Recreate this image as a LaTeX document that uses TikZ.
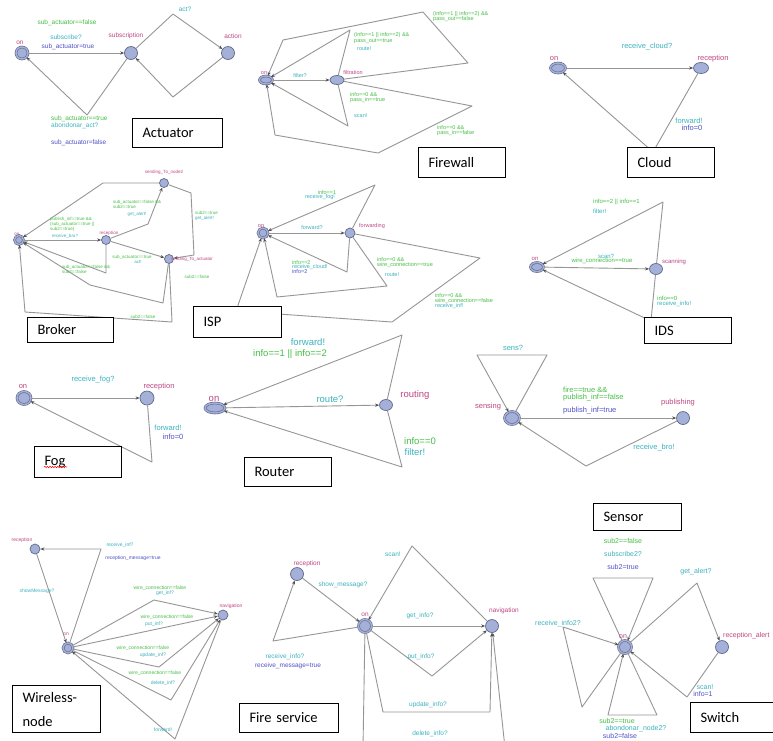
\documentclass[tikz,border=0pt]{standalone}
\usepackage{fontspec}
\usetikzlibrary{shapes.geometric,arrows.meta,decorations.pathmorphing}
\newfontfamily\labf{Liberation Sans}
\newfontfamily\boxf{Carlito}
\definecolor{stf}{RGB}{164,176,216}
\definecolor{stb}{RGB}{96,104,140}
\definecolor{edg}{RGB}{150,150,150}
\definecolor{arr}{RGB}{80,80,80}
\definecolor{cg}{RGB}{70,190,70}
\definecolor{cc}{RGB}{60,178,190}
\definecolor{cb}{RGB}{80,80,200}
\definecolor{cm}{RGB}{190,70,130}
\tikzset{
  st/.style={ellipse, draw=stb, fill=stf, line width=0.7pt, inner sep=0pt},
  ini/.style={double=stf, double distance=1.4pt, line width=0.6pt},
  trans/.style={draw=edg, line width=0.9pt, line join=round, -{Stealth[length=4pt,width=3.2pt,color=arr]}},
  tg/.style={text=cg, inner sep=0pt},
  tc/.style={text=cc, inner sep=0pt},
  tb/.style={text=cb, inner sep=0pt},
  tm/.style={text=cm, inner sep=0pt},
  lbox/.style={draw=black, fill=white, line width=1pt, anchor=north west, inner xsep=10pt, inner ysep=0pt, align=left, font=\boxf\fontsize{14.5}{20}\selectfont},
  fs/.style={every node/.append style={font=\labf\fontsize{#1}{#1}\selectfont}}
}
\begin{document}
\begin{tikzpicture}[x=1pt,y=-1pt]
\useasboundingbox (0,0) rectangle (773,740);
\fill[white] (0,0) rectangle (773,740);
\clip (0,0) rectangle (773,740);

% ---------------- Actuator
\begin{scope}[fs=6.5]
\node[st, ini, minimum width=12pt, minimum height=12pt] (aon) at (22,53) {};
\node[st, minimum width=13pt, minimum height=13pt] (asub) at (131,53) {};
\node[st, minimum width=13pt, minimum height=13pt] (aact) at (228,53) {};
\draw[trans] (aon) -- (asub);
\draw[trans] (asub) -- (173,14) -- (aact);
\draw[trans] (aact) -- (173,97) -- (asub);
\draw[trans] (asub) -- (87,115) -- (aon);
\node[tm] (a1) at (20,43) {on};
\node[tm] (a2) at (126,36) {subscription};
\node[tm] (a3) at (233,36) {action};
\node[tc] (a4) at (185,9) {act?};
\node[tg] (a5) at (67,23) {sub\_actuator==false};
\node[tc] (a6) at (66,37) {subscribe?};
\node[tb] (a7) at (68,47) {sub\_actuator=true};
\node[tg, anchor=west] (a8) at (51,119) {sub\_actuator==true};
\node[tc, anchor=west] (a9) at (51,126) {abondonar\_act?};
\node[tb, anchor=west] (a10) at (51,143) {sub\_actuator=false};
\end{scope}

% ---------------- Firewall
\begin{scope}[fs=5.5]
\node[st, ini, minimum width=13pt, minimum height=8pt] (fon) at (266,80) {};
\node[st, minimum width=14pt, minimum height=9pt] (ffil) at (337,80) {};
\draw[trans] (fon) -- (ffil);
\draw[trans] (ffil) -- (350,30) -- (fon);
\draw[trans] (ffil) -- (468,63) -- (423,12) -- (283,40) -- (fon);
\draw[trans] (ffil) -- (348,126) -- (fon);
\draw[trans] (ffil) -- (472,106) -- (378,153) -- (275,135) -- (fon);
\node[tm] (f1) at (264,73) {on};
\node[tm] (f2) at (353,73) {filtration};
\node[tc] (f3) at (300,76) {filter?};
\node[tg, anchor=west] (f4) at (354,35) {(info==1 || info==2) \&\&};
\node[tg, anchor=west] (f5) at (354,41) {pass\_out==true};
\node[tc, anchor=west] (f6) at (357,49) {route!};
\node[tg, anchor=west] (f7) at (433,14) {(info==1 || info==2) \&\&};
\node[tg, anchor=west] (f8) at (433,19.5) {pass\_out==false};
\node[tg, anchor=west] (f9) at (350,95) {info==0 \&\&};
\node[tg, anchor=west] (f10) at (350,100.5) {pass\_in==true};
\node[tc, anchor=west] (f11) at (354,116) {scan!};
\node[tg, anchor=west] (f12) at (437,128) {info==0 \&\&};
\node[tg, anchor=west] (f13) at (437,133.5) {pass\_in==false};
\end{scope}

% ---------------- Cloud
\begin{scope}[fs=7.5]
\node[st, ini, minimum width=15pt, minimum height=10pt] (con) at (558,68) {};
\node[st, minimum width=15pt, minimum height=11pt] (crec) at (701,68) {};
\draw[trans] (con) -- (crec);
\draw[trans] (crec) -- (653,152) -- (con);
\node[tm] (c1) at (554,59) {on};
\node[tm] (c2) at (713,59) {reception};
\node[tc] (c3) at (647,47) {receive\_cloud?};
\node[tc] (c4) at (689,121) {forward!};
\node[tb] (c5) at (692,128) {info=0};
\end{scope}

% ---------------- Broker
\begin{scope}[fs=4.5]
\node[st, ini, minimum width=9pt, minimum height=9pt] (bon) at (19,240) {};
\node[st, minimum width=9pt, minimum height=9pt] (brec) at (106,240) {};
\node[st, minimum width=9pt, minimum height=9pt] (bn2) at (164,183) {};
\node[st, minimum width=9pt, minimum height=9pt] (bact) at (169,259) {};
\draw[trans] (bon) -- (brec);
\draw[trans] (brec) -- (148,224) -- (bn2);
\draw[trans] (bn2) -- (103,183) -- (bon);
\draw[trans] (bn2) -- (191,193) -- (194,255) -- (bact);
\draw[trans] (brec) -- (bact);
\draw[trans] (brec) -- (106,273) -- (bon);
\draw[trans] (bact) -- (163,303) -- (90,285) -- (bon);
\draw[trans] (bact) -- (172,322) -- (25,312) -- (bon);
\node[tm] (b1) at (17,234) {on};
\node[tm] (b2) at (109,233) {reception};
\node[tm] (b3) at (164,172) {sending\_To\_node2};
\node[tm] (b4) at (192,259) {sending\_To\_actuator};
\node[tg, anchor=west] (b5) at (50,219) {publish\_inf==true \&\&};
\node[tg, anchor=west] (b6) at (50,224) {(sub\_actuator==true ||};
\node[tg, anchor=west] (b7) at (50,229) {sub2==true)};
\node[tc] (b8) at (65,236) {receive\_bro?};
\node[tg, anchor=west] (b9) at (113,202) {sub\_actuator==false \&\&};
\node[tg, anchor=west] (b10) at (113,206.5) {sub2==true};
\node[tc] (b11) at (137,214) {get\_alert!};
\node[tg, anchor=west] (b12) at (195,213) {sub2==true};
\node[tc, anchor=west] (b13) at (195,218.5) {get\_alert!};
\node[tg] (b14) at (132,257) {sub\_actuator==true};
\node[tc] (b15) at (138,262) {act!};
\node[tg, anchor=west] (b16) at (62,267) {sub\_actuator==false \&\&};
\node[tg, anchor=west] (b17) at (62,272) {sub2==false};
\node[tg] (b18) at (197,277) {sub2==false};
\node[tg] (b19) at (143,317) {sub2==false};
\end{scope}

% ---------------- ISP
\begin{scope}[fs=5.5]
\node[st, ini, minimum width=10pt, minimum height=10pt] (ion) at (263,233) {};
\node[st, minimum width=10pt, minimum height=10pt] (ifw) at (350,233) {};
\draw[trans] (ion) -- (ifw);
\draw[trans] (ifw) -- (375,185) -- (ion);
\draw[trans] (ifw) -- (347,272) -- (ion);
\draw[trans] (ifw) -- (387,286) -- (277,297) -- (ion);
\draw[trans] (ifw) -- (480,258) -- (392,322) -- (236,311) -- (ion);
\node[tm] (i1) at (261,226) {on};
\node[tm] (i2) at (372,226) {forwarding};
\node[tc] (i3) at (312,228) {forward?};
\node[tg] (i4) at (327,192.5) {info==1};
\node[tc] (i5) at (320,197.5) {receive\_fog!};
\node[tg, anchor=west] (i6) at (292,263) {info==2};
\node[tc, anchor=west] (i7) at (292,267.5) {receive\_cloud!};
\node[tb, anchor=west] (i8) at (292,272) {info=2};
\node[tg, anchor=west] (i9) at (377,260) {info==0 \&\&};
\node[tg, anchor=west] (i10) at (377,265) {wire\_connection==true};
\node[tc] (i11) at (392,275) {route!};
\node[tg, anchor=west] (i12) at (435,296) {info==0 \&\&};
\node[tg, anchor=west] (i13) at (435,301) {wire\_connection==false};
\node[tc, anchor=west] (i14) at (435,306) {receive\_inf!};
\end{scope}

% ---------------- IDS
\begin{scope}[fs=6]
\node[st, ini, minimum width=13pt, minimum height=9pt] (don) at (537,267) {};
\node[st, minimum width=13pt, minimum height=11pt] (dscan) at (656,269) {};
\draw[trans] (don) -- (dscan);
\draw[trans] (dscan) -- (663,202) -- (don);
\draw[trans] (dscan) -- (651,321) -- (don);
\node[tm] (d1) at (535,259) {on};
\node[tm] (d2) at (674,262) {scanning};
\node[tc] (d3) at (606,256) {scan?};
\node[tg] (d4) at (602,261) {wire\_connection==true};
\node[tg, anchor=west] (d5) at (593,202) {info==2 || info==1};
\node[tc, anchor=west] (d6) at (593,211) {filter!};
\node[tg, anchor=west] (d7) at (657,298) {info==0};
\node[tc, anchor=west] (d8) at (657,304) {receive\_info!};
\end{scope}

% ---------------- Fog
\begin{scope}[fs=7.5]
\node[st, ini, minimum width=14pt, minimum height=13pt] (gon) at (24,398) {};
\node[st, minimum width=14pt, minimum height=14pt] (grec) at (147,398) {};
\draw[trans] (gon) -- (grec);
\draw[trans] (grec) -- (152,462) -- (gon);
\node[tm] (g1) at (23,387) {on};
\node[tm] (g2) at (159,387) {reception};
\node[tc] (g3) at (93,380) {receive\_fog?};
\node[tc] (g4) at (168,428) {forward!};
\node[tb] (g5) at (173,437) {info=0};
\end{scope}

% ---------------- Router
\begin{scope}[fs=9.5]
\node[st, ini, minimum width=20pt, minimum height=10pt] (ron) at (215,408) {};
\node[st, minimum width=13pt, minimum height=11pt] (rrout) at (386,405) {};
\draw[trans] (ron) -- (rrout);
\draw[trans] (rrout) -- (402,335) -- (ron);
\draw[trans] (rrout) -- (402,467) -- (ron);
\node[tm] (r1) at (214,399) {on};
\node[tm] (r2) at (415,395) {routing};
\node[tc] (r3) at (330,399) {route?};
\node[tc] (r4) at (308,342) {forward!};
\node[tg] (r5) at (290,354) {info==1 || info==2};
\node[tg] (r6) at (420,441) {info==0};
\node[tc] (r7) at (415,452) {filter!};
\end{scope}

% ---------------- Sensor
\begin{scope}[fs=7.5]
\node[st, ini, minimum width=15pt, minimum height=13pt] (ssen) at (512,418) {};
\node[st, minimum width=13pt, minimum height=13pt] (spub) at (683,418) {};
\draw[trans] (ssen) -- (547,355) -- (477,355) -- (ssen);
\draw[trans] (ssen) -- (spub);
\draw[trans] (spub) -- (586,466) -- (ssen);
\node[tm] (s1) at (488,407) {sensing};
\node[tm] (s2) at (678,403) {publishing};
\node[tc] (s3) at (513,348) {sens?};
\node[tg, anchor=west] (s4) at (563,390) {fire==true \&\&};
\node[tg, anchor=west] (s5) at (563,398) {publish\_inf==false};
\node[tb, anchor=west] (s6) at (563,411) {publish\_inf=true};
\node[tc] (s7) at (654,448) {receive\_bro!};
\end{scope}

% ---------------- Wireless-node
\begin{scope}[fs=5]
\node[st, minimum width=10pt, minimum height=10pt] (wrec) at (35,549) {};
\node[st, ini, minimum width=10pt, minimum height=10pt] (won) at (68,648) {};
\node[st, minimum width=10pt, minimum height=10pt] (wnav) at (223,615) {};
\draw[trans] (wrec) -- (won);
\draw[trans] (won) -- (101,549) -- (wrec);
\draw[trans] (won) -- (154,600) -- (wnav);
\draw[trans] (won) -- (wnav);
\draw[trans] (won) -- (159,667) -- (wnav);
\draw[trans] (won) -- (171,700) -- (wnav);
\draw[trans] (wnav) -- (175,739) -- (won);
\node[tm] (w1) at (22,540) {reception};
\node[tm] (w2) at (66,634) {on};
\node[tm] (w3) at (231,606) {navigation};
\node[tc] (w4) at (37,591) {showMessage?};
\node[tc] (w5) at (120,545) {receive\_inf?};
\node[tb] (w6) at (133,558) {reception\_message=true};
\node[tg] (w7) at (160,588) {wire\_connection==false};
\node[tc] (w8) at (165,593) {get\_inf?};
\node[tg] (w9) at (167,617) {wire\_connection==false};
\node[tc] (w10) at (154,624) {put\_inf?};
\node[tg] (w11) at (143,648) {wire\_connection==false};
\node[tc] (w12) at (153,655) {update\_inf?};
\node[tg] (w13) at (155,673) {wire\_connection==false};
\node[tc] (w14) at (163,683) {delete\_inf?};
\node[tc] (w15) at (163,730) {forward!};
\end{scope}

% ---------------- Fire service
\begin{scope}[fs=6.5]
\node[st, minimum width=13pt, minimum height=13pt] (xrec) at (297,574) {};
\node[st, ini, minimum width=13pt, minimum height=13pt] (xon) at (365,626) {};
\node[st, minimum width=13pt, minimum height=13pt] (xnav) at (492,626) {};
\draw[trans] (xrec) -- (xon);
\draw[trans] (xon) -- (273,641) -- (xrec);
\draw[trans] (xnav) -- (412,546) -- (xon);
\draw[trans] (xon) -- (xnav);
\draw[trans] (xon) -- (432,676) -- (xnav);
\draw[trans] (xon) -- (383,712) -- (490,712) -- (xnav);
\draw[trans] (xon) -- (363,748) -- (505,748) -- (xnav);
\node[tm] (x1) at (307,564) {reception};
\node[tm] (x2) at (365,615) {on};
\node[tm] (x3) at (504,611) {navigation};
\node[tc] (x4) at (343,585) {show\_message?};
\node[tc] (x5) at (285,657) {receive\_info?};
\node[tb] (x6) at (288,666) {receive\_message=true};
\node[tc] (x7) at (393,554) {scan!};
\node[tc] (x8) at (420,616) {get\_info?};
\node[tc] (x9) at (421,657) {put\_info?};
\node[tc] (x10) at (428,705) {update\_info?};
\node[tc] (x11) at (430,734) {delete\_info?};
\end{scope}

% ---------------- Switch
\begin{scope}[fs=7]
\node[st, ini, minimum width=13pt, minimum height=13pt] (zon) at (625,647) {};
\node[st, minimum width=13pt, minimum height=13pt] (zra) at (722,647) {};
\draw[trans] (zon) -- (593,578) -- (653,578) -- (zon);
\draw[trans] (zon) -- (582,707) -- (563,627) -- (zon);
\draw[trans] (zon) -- (657,715) -- (608,715) -- (zon);
\draw[trans] (zon) -- (697,583) -- (zra);
\draw[trans] (zra) -- (687,697) -- (zon);
\node[tm] (z1) at (623,637) {on};
\node[tm, anchor=west] (z2) at (723,636) {reception\_alert};
\node[tg] (z3) at (623,541) {sub2==false};
\node[tc] (z4) at (623,554) {subscribe2?};
\node[tb] (z5) at (623,567) {sub2=true};
\node[tc] (z6) at (558,624) {receive\_info2?};
\node[tc] (z7) at (696,572) {get\_alert?};
\node[tc] (z8) at (705,687) {scan!};
\node[tb] (z9) at (703,693.5) {info=1};
\node[tg] (z10) at (617,721) {sub2==true};
\node[tc] (z11) at (636,728.5) {abondonar\_node2?};
\node[tb] (z12) at (620,735.5) {sub2=false};
\end{scope}

% ---------------- Title boxes
\node[lbox, minimum height=29pt, text width=70pt] (kact) at (132,118) {Actuator};
\node[lbox, minimum height=30pt, text width=67pt] (kfw) at (418,147) {Firewall};
\node[lbox, minimum height=30pt, text width=67pt] (kcl) at (627,147) {Cloud};
\node[lbox, minimum height=25pt, text width=66pt] (kbr) at (27,317) {Broker};
\node[lbox, minimum height=31pt, text width=68pt] (kisp) at (193,306) {ISP};
\node[lbox, minimum height=26pt, text width=67pt] (kids) at (644,317) {IDS};
\node[lbox, minimum height=31pt, text width=67pt] (kfog) at (34,446) {Fog};
\node[lbox, minimum height=29pt, text width=67pt] (krt) at (244,457) {Router};
\node[lbox, minimum height=27pt, text width=68pt] (ksen) at (593,503) {Sensor};
\node[lbox, minimum height=47pt, text width=68pt, font=\boxf\fontsize{14.5}{24}\selectfont] (kwn) at (12,685) {Wireless-\\node};
\node[lbox, minimum height=29pt, text width=79pt] (kfs) at (239,703) {Fire service};
\node[lbox, minimum height=30pt, text width=65pt] (ksw) at (690,702) {Switch};
\draw[red, line width=0.5pt, decorate, decoration={snake, amplitude=0.7pt, segment length=2.6pt}] (44,467) -- (67,467);
\end{tikzpicture}
\end{document}
